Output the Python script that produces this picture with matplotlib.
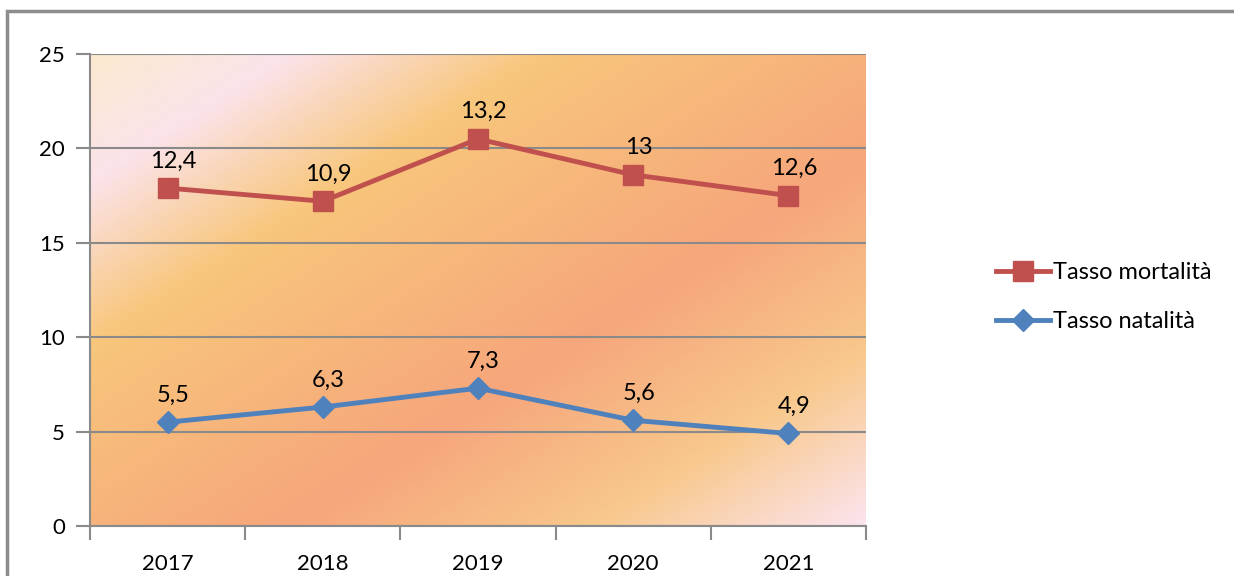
import numpy as np
import matplotlib
matplotlib.use("Agg")
import matplotlib.pyplot as plt
from matplotlib.colors import LinearSegmentedColormap
from matplotlib.patches import Rectangle

plt.rcParams["font.family"] = ["Lato", "DejaVu Sans"]

years = ["2017", "2018", "2019", "2020", "2021"]
natalita = [5.5, 6.3, 7.3, 5.6, 4.9]
mortalita = [12.4, 10.9, 13.2, 13.0, 12.6]

# stacked line chart: mortality sits on top of natality
nat = np.array(natalita)
mort_stacked = nat + np.array(mortalita)

def fmt(v):
    s = f"{v:g}"
    return s.replace(".", ",")

fig = plt.figure(figsize=(12.34, 5.76), dpi=100)
ax = fig.add_axes([90 / 1234, 50 / 576, 776 / 1234, 472 / 576])

# outer chart border
fig.patches.append(Rectangle((7 / 1234, -0.1), 1.2, (576 - 11) / 576 + 0.1,
                             transform=fig.transFigure, fill=False,
                             edgecolor="#8c8c8c", linewidth=2.5, clip_on=False))

# diagonal gradient background
wpx, hpx = 776, 472
xx, yy = np.meshgrid(np.linspace(0, wpx, 400), np.linspace(0, hpx, 250))
t = 0.64 * xx + yy
t = (t - t.min()) / (t.max() - t.min())
cmap = LinearSegmentedColormap.from_list("bg", [
    (0.0, "#fbe9cf"),
    (0.13, "#fbe3ea"),
    (0.30, "#f8c67b"),
    (0.62, "#f6a67c"),
    (0.82, "#f8c88c"),
    (1.0, "#fce4ee"),
])
ax.imshow(t, cmap=cmap, extent=(-0.5, 4.5, 0, 25), aspect="auto",
          origin="upper", zorder=0, interpolation="bilinear")

x = np.arange(len(years))
ax.plot(x, mort_stacked, color="#c0504d", linewidth=3.5, marker="s",
        markersize=15, label="Tasso mortalità", zorder=4)
ax.plot(x, nat, color="#4f81bd", linewidth=3.5, marker="D",
        markersize=11, label="Tasso natalità", zorder=4)

for xi, yv, v in zip(x, mort_stacked, mortalita):
    ax.annotate(fmt(v), (xi, yv), xytext=(4, 12), textcoords="offset points",
                ha="center", va="bottom", fontsize=17, color="black", zorder=5)
for xi, yv, v in zip(x, nat, natalita):
    ax.annotate(fmt(v), (xi, yv), xytext=(4, 12), textcoords="offset points",
                ha="center", va="bottom", fontsize=17, color="black", zorder=5)

ax.set_xlim(-0.5, 4.5)
ax.set_ylim(0, 25)
ax.set_yticks([0, 5, 10, 15, 20, 25])
ax.yaxis.grid(True, color="#8a8a8a", linewidth=1.5, zorder=1)
ax.set_axisbelow(False)
ax.set_xticks(x)
ax.set_xticklabels(years)
ax.set_xticks(np.arange(-0.5, 5, 1), minor=True)
ax.tick_params(axis="x", which="major", length=0, pad=20, labelsize=16)
ax.tick_params(axis="x", which="minor", length=10, width=1.5, color="#8a8a8a")
ax.tick_params(axis="y", length=10, width=1.5, color="#8a8a8a", pad=8,
               labelsize=16)

for side in ["top", "right"]:
    ax.spines[side].set_visible(False)
for side in ["left", "bottom"]:
    ax.spines[side].set_color("#8a8a8a")
    ax.spines[side].set_linewidth(1.5)

leg = ax.legend(loc="center left", bbox_to_anchor=(1.14, 0.485), frameon=False,
                fontsize=17, handlelength=2.3, handletextpad=0.1,
                labelspacing=1.2)

fig.savefig("out.png", dpi=100)
